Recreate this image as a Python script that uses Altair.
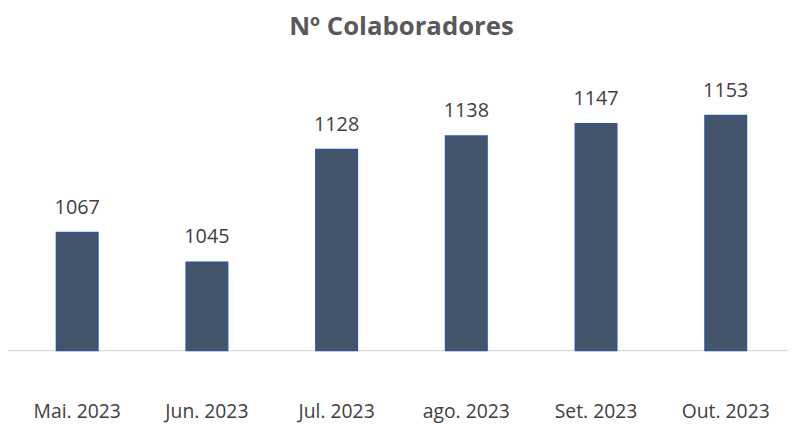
import altair as alt
import pandas as pd

months = ["Mai. 2023", "Jun. 2023", "Jul. 2023", "ago. 2023", "Set. 2023", "Out. 2023"]
values = [1067, 1045, 1128, 1138, 1147, 1153]
base_value = 980

df = pd.DataFrame({"mes": months, "valor": values})
base_df = pd.DataFrame({"base": [base_value]})

FONT = "Open Sans"

x = alt.X("mes:N", sort=months, title=None,
          scale=alt.Scale(paddingInner=0.68, paddingOuter=0.32, align=0.5),
          axis=alt.Axis(labelAngle=0, ticks=False, domain=False, labelPadding=53,
                        labelFontSize=19.5, labelColor="#404040", labelFont=FONT))
y = alt.Y("valor:Q", title=None, scale=alt.Scale(domain=[980, 1200], zero=False, nice=False),
          axis=None)

bars = alt.Chart(df).mark_bar(color="#44546A", stroke="#2F5597", strokeWidth=1.5).encode(
    x=x, y=y, y2=alt.datum(base_value)
)

baseline = alt.Chart(base_df).mark_rule(color="#D9D9D9", strokeWidth=1.5).encode(
    x=alt.value(-7), x2=alt.value(781),
    y=alt.Y("base:Q", scale=alt.Scale(domain=[980, 1200], zero=False, nice=False), axis=None)
)

labels = alt.Chart(df).mark_text(dy=-15, baseline="bottom", fontSize=20, color="#404040",
                                 font=FONT).encode(
    x=alt.X("mes:N", sort=months), y="valor:Q", text="valor:Q"
)

chart = (baseline + bars + labels).properties(
    width=781, height=302,
    title=alt.TitleParams("Nº Colaboradores", fontSize=26, font=FONT, fontWeight="bold",
                          color="#595959", anchor="middle", offset=12),
    autosize="none",
    padding={"left": 7, "top": 42, "right": 0, "bottom": 72},
).configure_view(stroke=None)

chart.save("out.html", embed_options={"renderer": "svg", "actions": False})
